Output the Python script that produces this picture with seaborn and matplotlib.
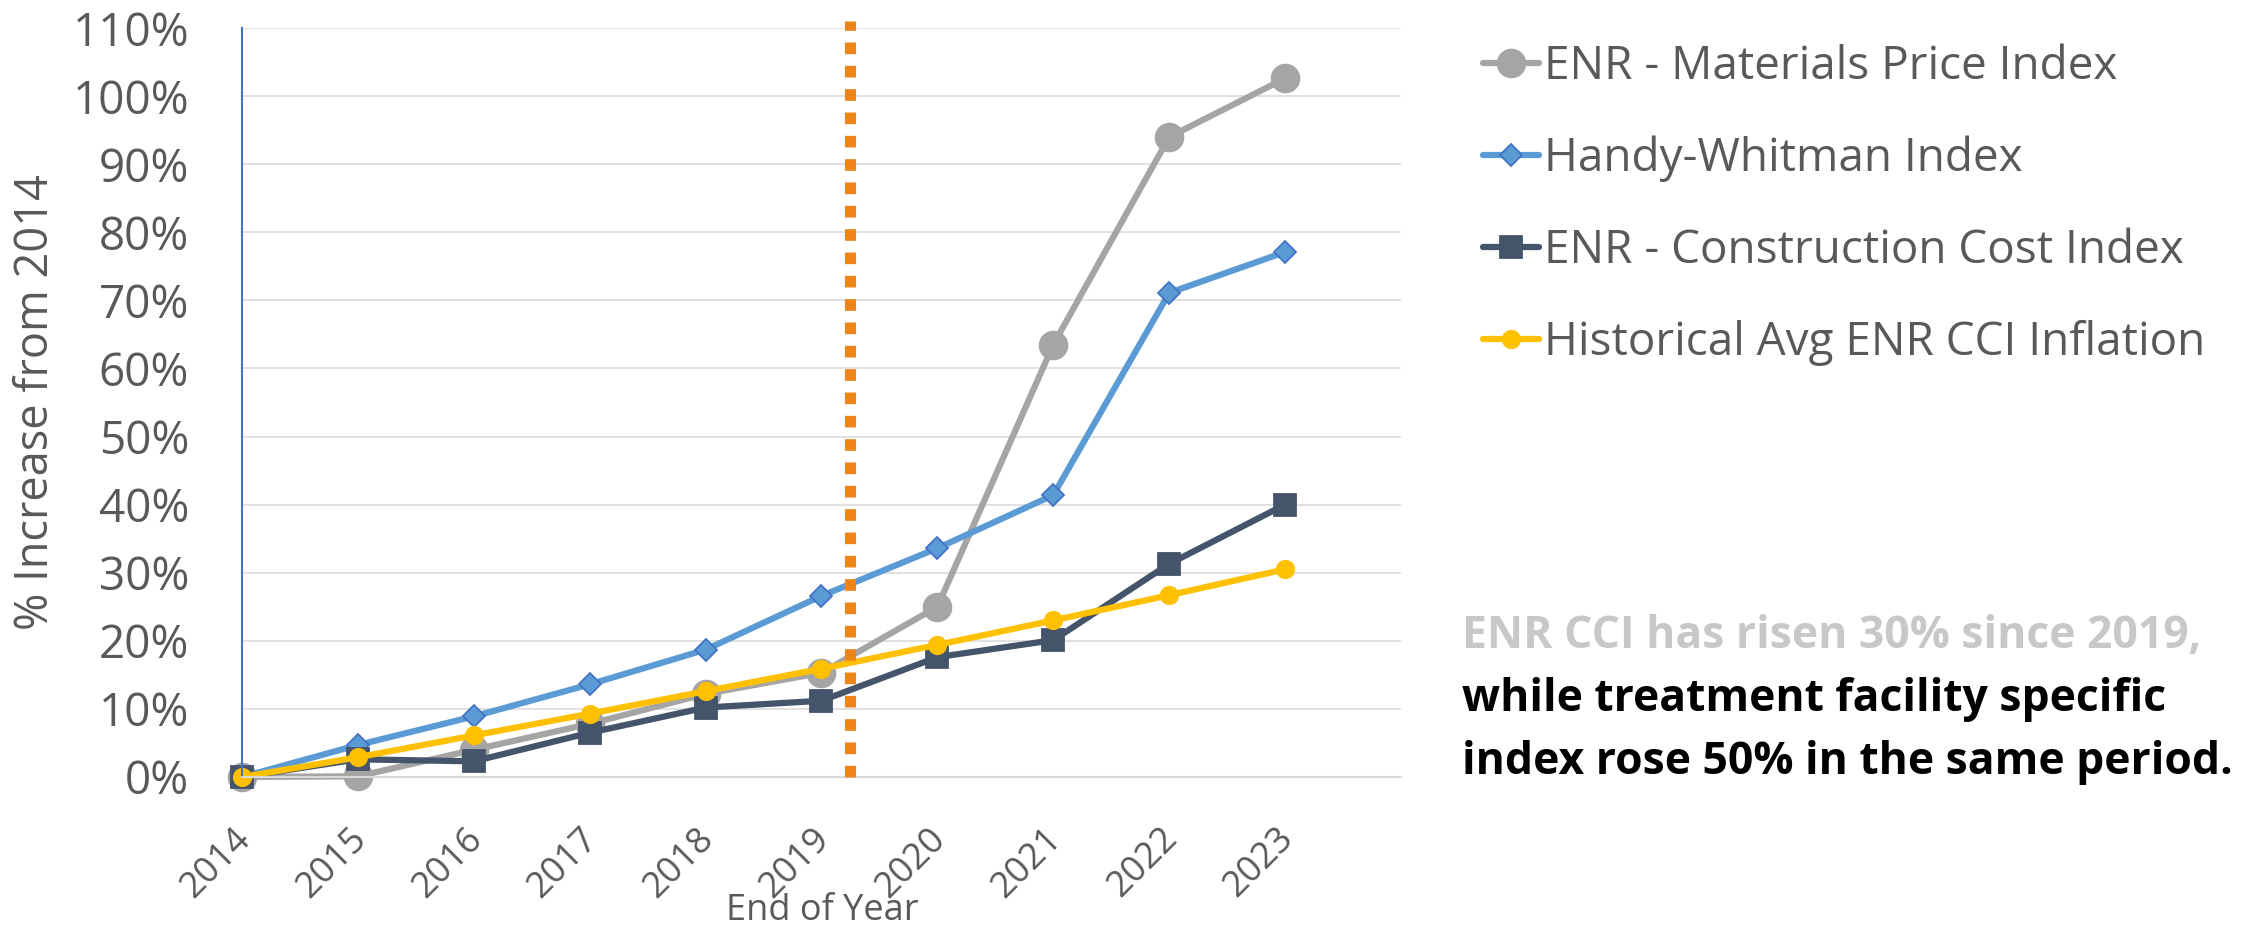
import numpy as np
import pandas as pd
import matplotlib
matplotlib.use("Agg")
import matplotlib.pyplot as plt
import seaborn as sns
from matplotlib.ticker import PercentFormatter

# ---------------- data ----------------
years = ["2014", "2015", "2016", "2017", "2018", "2019", "2020", "2021", "2022", "2023"]
materials = [0.000, 0.001, 0.040, 0.078, 0.122, 0.153, 0.250, 0.635, 0.940, 1.026]
handy_whitman = [0.000, 0.047, 0.089, 0.136, 0.187, 0.266, 0.336, 0.414, 0.711, 0.771]
cci = [0.000, 0.026, 0.023, 0.065, 0.102, 0.112, 0.176, 0.201, 0.313, 0.400]
historical = [0.000, 0.029, 0.061, 0.093, 0.126, 0.159, 0.194, 0.230, 0.267, 0.305]
series_names = ["ENR - Materials Price Index", "Handy-Whitman Index",
                "ENR - Construction Cost Index", "Historical Avg ENR CCI Inflation"]
covid_position = 5.25  # roughly end of Q1 2020 on the year axis
y_ticks = [0.0, 0.1, 0.2, 0.3, 0.4, 0.5, 0.6, 0.7, 0.8, 0.9, 1.0, 1.1]
note_line1 = "ENR CCI has risen 30% since 2019,"
note_line2 = "while treatment facility specific"
note_line3 = "index rose 50% in the same period."

# ---------------- style ----------------
sns.set_style("white")
plt.rcParams["font.family"] = ["Open Sans", "DejaVu Sans"]
TXT = "#595959"

W, H = 2244, 931
fig = plt.figure(figsize=(W / 100, H / 100), dpi=100)
ax_left, ax_right, ax_top, ax_bottom = 242, 1401, 28, 777
ax = fig.add_axes([ax_left / W, 1 - ax_bottom / H, (ax_right - ax_left) / W, (ax_bottom - ax_top) / H])

pos = np.arange(len(years))
df = pd.DataFrame({"pos": pos, "materials": materials, "handy": handy_whitman,
                   "cci": cci, "historical": historical})

styles = [
    ("materials", "#A5A5A5", "o", 20.0, "#A5A5A5"),
    ("handy", "#5B9BD5", "D", 11.5, "#4472C4"),
    ("cci", "#44546A", "s", 16.0, "#44546A"),
    ("historical", "#FFC000", "o", 12.5, "#FFC000"),
]
for (col, color, mk, ms, mec), name in zip(styles, series_names):
    sns.lineplot(data=df, x="pos", y=col, ax=ax, color=color, linewidth=4.5,
                 marker=mk, markersize=ms, markeredgecolor=mec, markeredgewidth=1.3,
                 label=name, clip_on=False, legend=False)

ax.axvline(covid_position, ymin=0, ymax=1.01, color="#EF8418", linewidth=8.0,
           linestyle=(0, (1.05, 1.05)), dash_capstyle="butt", zorder=5, clip_on=False)

ax.set_xlim(0, len(years))
ax.set_ylim(0, 1.1)
ax.set_xticks(np.arange(len(years) + 1))
ax.set_xticklabels(years + [""])
ax.set_yticks(y_ticks)
ax.yaxis.set_major_formatter(PercentFormatter(1.0, decimals=0))

ax.grid(axis="y", color="#D9D9D9", linewidth=1.1)
ax.grid(axis="x", visible=False)
ax.set_axisbelow(True)
for s in ["top", "right"]:
    ax.spines[s].set_visible(False)
ax.spines["left"].set_color("#4472C4")
ax.spines["left"].set_linewidth(1.5)
ax.spines["bottom"].set_color("#D9D9D9")
ax.spines["bottom"].set_linewidth(1.5)

ax.tick_params(axis="y", direction="inout", length=24, width=1.5, color="#4472C4",
               labelsize=33, labelcolor=TXT, pad=26)
ax.tick_params(axis="x", direction="inout", length=19, width=1.5, color="#D9D9D9",
               labelsize=26, labelcolor=TXT, pad=29)
for lab in ax.get_xticklabels():
    lab.set_rotation(45)
    lab.set_ha("right")
    lab.set_va("center_baseline")
    lab.set_rotation_mode("anchor")

ax.set_xlabel("")
ax.set_ylabel("")
fig.text(822 / W, 1 - 911 / H, "End of Year", fontsize=26, color=TXT, ha="center", va="center")
fig.text(36 / W, 1 - 402 / H, "% Increase from 2014", fontsize=32.5, color=TXT,
         rotation=90, ha="center", va="center")

handles, labels = ax.get_legend_handles_labels()
leg = ax.legend(handles, labels, loc="upper left", bbox_to_anchor=(1483 / W, 1 - 44 / H),
                bbox_transform=fig.transFigure, frameon=False, fontsize=33,
                labelcolor=TXT, handlelength=1.22, handletextpad=0.12,
                labelspacing=1.0, borderpad=0, borderaxespad=0)

fig.text(1462 / W, 1 - 648 / H, note_line1, fontsize=32, fontweight="bold",
         color="#C8C8C8", ha="left", va="baseline")
fig.text(1462 / W, 1 - 711 / H, note_line2, fontsize=32, fontweight="bold",
         color="#000000", ha="left", va="baseline")
fig.text(1462 / W, 1 - 774 / H, note_line3, fontsize=32, fontweight="bold",
         color="#000000", ha="left", va="baseline")

fig.savefig("out.png", dpi=100)
